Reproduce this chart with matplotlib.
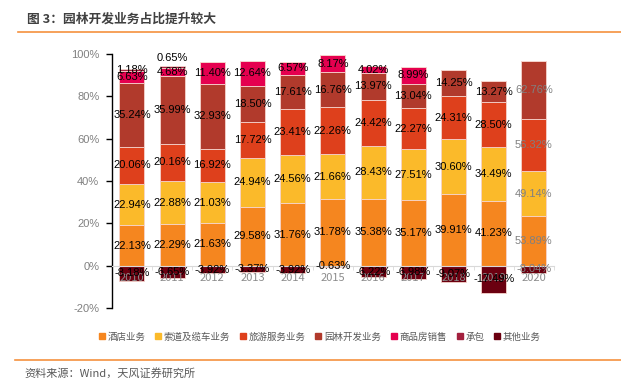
import numpy as np
import matplotlib.pyplot as plt
from matplotlib.lines import Line2D

plt.rcParams['font.family'] = ['Noto Sans CJK SC', 'DejaVu Sans']

years = ['2010', '2011', '2012', '2013', '2014', '2015', '2016', '2017', '2018', '2019', '2020']
series_names = ['酒店业务', '索道及缆车业务', '旅游服务业务', '园林开发业务', '商品房销售', '承包', '其他业务']
colors = ['#F5861F', '#FBBA2A', '#DE401C', '#B13A2C', '#E5004F', '#A3203E', '#6B0010']

hotel = [22.13, 22.29, 21.63, 29.58, 31.76, 31.78, 35.38, 35.17, 39.91, 41.23, 53.89]
ropeway = [22.94, 22.88, 21.03, 24.94, 24.56, 21.66, 28.43, 27.51, 30.60, 34.49, 49.14]
tourism = [20.06, 20.16, 16.92, 17.72, 23.41, 22.26, 24.42, 22.27, 24.31, 28.50, 56.32]
garden = [35.24, 35.99, 32.93, 18.50, 17.61, 16.76, 13.97, 13.04, 14.25, 13.27, 62.76]
estate = [6.63, 4.68, 11.40, 12.64, 6.57, 8.17, 4.02, 8.99, 0, 0, 0]
contract = [1.18, 0.65, 0, 0, 0, 0, 0, 0, 0, 0, 0]
other = [-8.18, -6.65, -3.92, -3.37, -3.92, -0.63, -6.22, -6.98, -9.07, -17.49, -8.04]

data = np.array([hotel, ropeway, tourism, garden, estate, contract, other])

# Excel style 100% stacked: each value over the sum of absolute values
share = data / np.abs(data).sum(axis=0) * 100

fig = plt.figure(figsize=(6.21, 3.86), dpi=100)
ax = fig.add_axes([0.18, 0.202, 0.712, 0.658])
x = np.arange(len(years))
width = 0.62

pos_bottom = np.zeros(len(years))
neg_bottom = np.zeros(len(years))
for i, name in enumerate(series_names):
    vals = share[i]
    bottoms = np.where(vals >= 0, pos_bottom, neg_bottom)
    ax.bar(x, vals, width, bottom=bottoms, color=colors[i],
           edgecolor='#F6D3CC', linewidth=0.6, zorder=1)
    for j in range(len(years)):
        if data[i, j] == 0:
            continue
        yc = bottoms[j] + vals[j] / 2
        if i == 5 and j == 1:
            yc += 4.5
        tc = '#808080' if j == len(years) - 1 else 'black'
        ax.text(x[j], yc, f'{data[i, j]:.2f}%', ha='center', va='center',
                fontsize=8, family='Liberation Sans', color=tc, zorder=3)
    pos_bottom = pos_bottom + np.where(vals >= 0, vals, 0)
    neg_bottom = neg_bottom + np.where(vals < 0, vals, 0)

ax.set_xlim(-0.5, len(years) - 0.5)
ax.set_ylim(-20, 100)
ax.set_yticks(np.arange(-20, 101, 20))
ax.set_yticklabels([f'{v}%' for v in range(-20, 101, 20)], family='Liberation Sans')
ax.set_xticks(x)
ax.set_xticklabels(years, family='Liberation Sans')
ax.set_xticks(np.arange(-0.5, len(years), 1), minor=True)
ax.tick_params(axis='x', which='major', length=0, pad=5,
               labelsize=8, labelcolor='#8C8C8C')
ax.tick_params(axis='x', which='minor', length=3, color='#D9D9D9')
ax.tick_params(axis='y', length=4, width=1, color='black', pad=5,
               labelsize=8, labelcolor='#808080')

for s in ['top', 'right']:
    ax.spines[s].set_visible(False)
ax.spines['bottom'].set_position(('data', 0))
ax.spines['bottom'].set_color('#D9D9D9')
ax.spines['left'].set_linewidth(1)

handles = [Line2D([], [], marker='s', linestyle='none', markersize=4,
                  color=c) for c in colors]
fig.legend(handles, series_names, loc='center', bbox_to_anchor=(0.515, 0.127),
           ncol=7, frameon=False, fontsize=6.8, handletextpad=0.3, handlelength=0.6,
           columnspacing=1.05, labelcolor='#595959')

fig.text(27 / 621, 1 - 19.5 / 386, '图 3：园林开发业务占比提升较大', fontsize=9.2,
         fontweight='bold', color='#404040', va='center', ha='left')
fig.add_artist(Line2D([18 / 621, 1], [1 - 32 / 386] * 2, color='#F5913E', lw=1.2))
fig.add_artist(Line2D([15 / 621, 1], [1 - 360 / 386] * 2, color='#F5913E', lw=1.2))
fig.text(24 / 621, 1 - 373 / 386, '资料来源：Wind，天风证券研究所', fontsize=8,
         color='#595959', va='center', ha='left')

fig.savefig('out.png', dpi=100)
